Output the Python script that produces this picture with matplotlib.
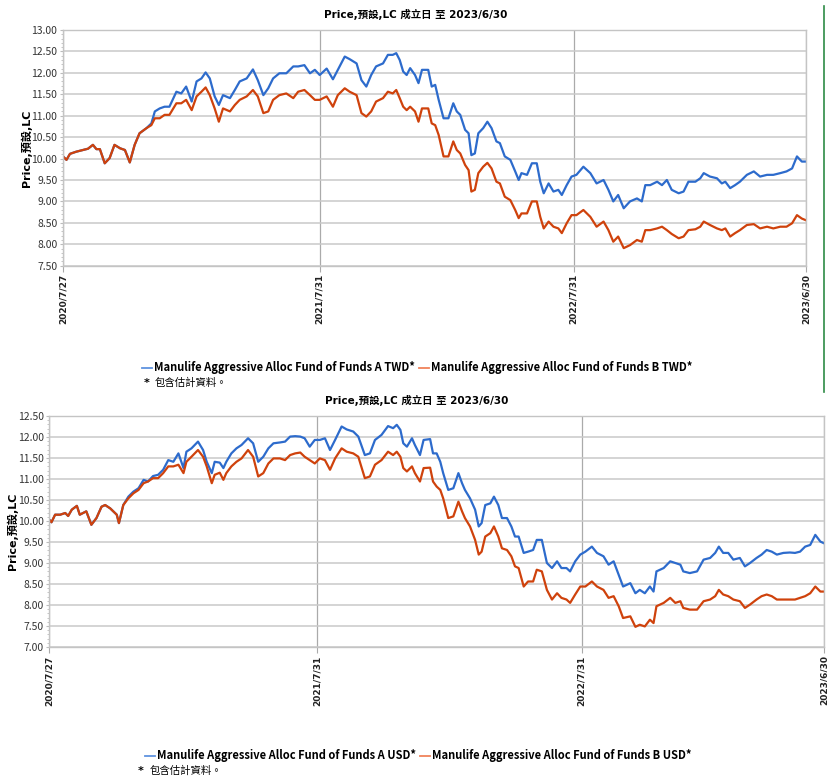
import pandas as pd
import matplotlib.pyplot as plt
from matplotlib.lines import Line2D
from matplotlib.ticker import MultipleLocator

plt.rcParams['font.family'] = ['DejaVu Sans', 'Noto Sans CJK TC']

start = pd.Timestamp('2020-07-27')
tick_dates = ['2020-07-27', '2021-07-31', '2022-07-31', '2023-06-30']
tick_labels = ['2020/7/27', '2021/7/31', '2022/7/31', '2023/6/30']
title = 'Price,預設,LC 成立日 至 2023/6/30'
y_title = 'Price,預設,LC'
footnote = '包含估計資料。'

# TWD share classes (days after launch, price)
twd_days = [0, 5, 10, 19, 29, 36, 43, 48, 53, 60,
            67, 74, 82, 89, 96, 103, 110, 120, 127, 132,
            139, 146, 153, 163, 170, 177, 185, 192, 199, 205,
            211, 218, 224, 230, 240, 247, 254, 264, 273, 280,
            288, 295, 302, 311, 321, 331, 338, 347, 355, 362,
            369, 379, 388, 395, 405, 412, 422, 429, 436, 443,
            450, 460, 467, 474, 479, 484, 489, 494, 499, 506,
            511, 516, 525, 530, 535, 540, 547, 554, 561, 566,
            571, 578, 583, 587, 592, 597, 604, 610, 616, 623,
            628, 635, 643, 650, 655, 659, 667, 674, 681, 686,
            691, 698, 705, 712, 717, 724, 731, 738, 748, 758,
            767, 777, 784, 791, 798, 806, 815, 825, 832, 837,
            844, 854, 861, 868, 875, 885, 892, 899, 909, 916,
            921, 930, 940, 947, 952, 959, 966, 973, 983, 993,
            1002, 1012, 1021, 1031, 1040, 1048, 1055, 1062, 1068]
twd_a = [10.05, 9.97, 10.11, 10.16, 10.20, 10.23, 10.32, 10.22, 10.22, 9.89,
         10.01, 10.32, 10.24, 10.20, 9.91, 10.32, 10.59, 10.71, 10.82, 11.10,
         11.17, 11.21, 11.21, 11.56, 11.52, 11.68, 11.33, 11.80, 11.87, 12.01,
         11.87, 11.45, 11.25, 11.48, 11.41, 11.60, 11.80, 11.87, 12.08, 11.83,
         11.48, 11.64, 11.87, 11.99, 11.99, 12.15, 12.15, 12.18, 11.99, 12.07,
         11.95, 12.10, 11.85, 12.07, 12.38, 12.32, 12.22, 11.83, 11.68, 11.95,
         12.15, 12.22, 12.42, 12.42, 12.46, 12.30, 12.03, 11.95, 12.11, 11.95,
         11.76, 12.07, 12.07, 11.68, 11.72, 11.37, 10.94, 10.94, 11.29, 11.10,
         11.02, 10.67, 10.59, 10.08, 10.12, 10.59, 10.71, 10.86, 10.71, 10.40,
         10.36, 10.05, 9.97, 9.70, 9.50, 9.66, 9.62, 9.89, 9.89, 9.46,
         9.19, 9.42, 9.23, 9.27, 9.15, 9.38, 9.58, 9.62, 9.81, 9.66,
         9.42, 9.50, 9.27, 9.00, 9.15, 8.84, 9.00, 9.07, 9.00, 9.38,
         9.38, 9.46, 9.38, 9.50, 9.27, 9.19, 9.23, 9.46, 9.46, 9.54,
         9.66, 9.58, 9.54, 9.42, 9.46, 9.31, 9.38, 9.46, 9.62, 9.70,
         9.58, 9.62, 9.62, 9.66, 9.70, 9.77, 10.05, 9.93, 9.93]
twd_b = [10.05, 9.97, 10.11, 10.16, 10.20, 10.23, 10.32, 10.22, 10.22, 9.89,
         10.01, 10.32, 10.24, 10.20, 9.91, 10.32, 10.59, 10.71, 10.78, 10.94,
         10.94, 11.02, 11.02, 11.29, 11.29, 11.37, 11.13, 11.45, 11.56, 11.66,
         11.48, 11.17, 10.86, 11.17, 11.10, 11.25, 11.37, 11.45, 11.60, 11.45,
         11.06, 11.10, 11.37, 11.48, 11.52, 11.41, 11.56, 11.60, 11.48, 11.37,
         11.37, 11.45, 11.21, 11.48, 11.64, 11.56, 11.48, 11.06, 10.98, 11.10,
         11.33, 11.41, 11.56, 11.52, 11.60, 11.41, 11.21, 11.13, 11.21, 11.10,
         10.86, 11.17, 11.17, 10.82, 10.78, 10.55, 10.05, 10.05, 10.40, 10.20,
         10.12, 9.85, 9.73, 9.23, 9.27, 9.66, 9.81, 9.90, 9.77, 9.46,
         9.42, 9.11, 9.03, 8.80, 8.61, 8.72, 8.72, 9.00, 9.00, 8.64,
         8.37, 8.53, 8.41, 8.37, 8.26, 8.49, 8.68, 8.68, 8.80, 8.64,
         8.41, 8.53, 8.33, 8.06, 8.18, 7.91, 7.98, 8.10, 8.06, 8.33,
         8.33, 8.37, 8.41, 8.33, 8.24, 8.14, 8.18, 8.33, 8.35, 8.41,
         8.53, 8.45, 8.37, 8.33, 8.37, 8.18, 8.26, 8.33, 8.45, 8.47,
         8.37, 8.41, 8.37, 8.41, 8.41, 8.49, 8.68, 8.60, 8.56]

# USD share classes
usd_days = [0, 3, 8, 15, 22, 26, 31, 38, 42, 51,
            58, 65, 72, 77, 84, 93, 96, 102, 109, 116,
            123, 130, 136, 143, 150, 157, 164, 171, 178, 185,
            189, 196, 205, 212, 217, 224, 228, 235, 240, 244,
            251, 258, 265, 274, 281, 288, 295, 302, 309, 318,
            325, 332, 339, 346, 352, 359, 366, 373, 380, 387,
            394, 403, 410, 419, 426, 435, 442, 449, 458, 467,
            474, 479,
            484, 488, 493, 500, 504, 511, 516, 525, 529, 534,
            539, 543, 550, 557, 564, 569, 573, 580, 587, 592,
            596, 601, 608, 613, 619, 624, 631, 637, 642, 647,
            654, 660, 667, 672, 679, 686, 693, 700, 706, 713,
            718, 725, 732, 739, 748, 755, 764, 771, 778, 785,
            791, 801, 808, 814, 821, 828, 833, 837, 847, 856,
            863, 870, 874, 883, 893, 902, 911, 918, 923, 929,
            936, 943, 952, 959, 966, 975, 982, 989, 996, 1003,
            1012, 1021, 1028, 1035, 1042, 1049, 1056, 1063, 1068]
usd_a = [10.03, 9.97, 10.15, 10.15, 10.19, 10.12, 10.27, 10.36, 10.15, 10.23,
         9.91, 10.07, 10.34, 10.38, 10.30, 10.15, 9.95, 10.38, 10.58, 10.70,
         10.78, 10.98, 10.94, 11.07, 11.10, 11.22, 11.45, 11.41, 11.61, 11.26,
         11.65, 11.73, 11.89, 11.69, 11.41, 11.14, 11.41, 11.39, 11.26, 11.41,
         11.61, 11.73, 11.81, 11.97, 11.85, 11.41, 11.53, 11.73, 11.85, 11.87,
         11.89, 12.01, 12.02, 12.01, 11.97, 11.77, 11.93, 11.93, 11.97, 11.69,
         11.93, 12.25, 12.18, 12.13, 12.01, 11.57, 11.61, 11.93, 12.05, 12.26,
         12.21, 12.29,
         12.17, 11.85, 11.77, 11.97, 11.81, 11.57, 11.93, 11.95, 11.61, 11.61,
         11.41, 11.14, 10.74, 10.78, 11.14, 10.90, 10.74, 10.54, 10.27, 9.87,
         9.95, 10.38, 10.42, 10.58, 10.38, 10.07, 10.07, 9.87, 9.63, 9.63,
         9.24, 9.27, 9.31, 9.55, 9.55, 9.00, 8.88, 9.04, 8.88, 8.88,
         8.80, 9.04, 9.20, 9.27, 9.39, 9.24, 9.16, 8.96, 9.04, 8.72,
         8.44, 8.52, 8.28, 8.36, 8.28, 8.44, 8.32, 8.80, 8.88, 9.04,
         9.00, 8.96, 8.80, 8.76, 8.80, 9.08, 9.12, 9.24, 9.39, 9.24,
         9.24, 9.08, 9.12, 8.92, 9.00, 9.12, 9.20, 9.31, 9.27, 9.20,
         9.24, 9.25, 9.24, 9.27, 9.39, 9.43, 9.67, 9.51, 9.47]
usd_b = [10.03, 9.97, 10.15, 10.15, 10.19, 10.12, 10.27, 10.36, 10.15, 10.23,
         9.91, 10.07, 10.34, 10.38, 10.30, 10.15, 9.95, 10.38, 10.54, 10.66,
         10.74, 10.90, 10.94, 11.02, 11.02, 11.14, 11.30, 11.30, 11.34, 11.14,
         11.41, 11.53, 11.69, 11.53, 11.30, 10.90, 11.10, 11.15, 10.98, 11.14,
         11.30, 11.41, 11.49, 11.69, 11.53, 11.06, 11.14, 11.37, 11.49, 11.49,
         11.45, 11.57, 11.61, 11.63, 11.53, 11.45, 11.37, 11.49, 11.45, 11.22,
         11.49, 11.73, 11.65, 11.61, 11.53, 11.02, 11.06, 11.34, 11.45, 11.65,
         11.57, 11.65,
         11.53, 11.26, 11.18, 11.30, 11.14, 10.94, 11.26, 11.27, 10.94, 10.82,
         10.74, 10.54, 10.07, 10.11, 10.46, 10.23, 10.07, 9.87, 9.55, 9.20,
         9.27, 9.63, 9.71, 9.87, 9.63, 9.35, 9.31, 9.16, 8.92, 8.88,
         8.44, 8.56, 8.56, 8.84, 8.80, 8.36, 8.13, 8.28, 8.17, 8.13,
         8.05, 8.25, 8.44, 8.44, 8.56, 8.44, 8.36, 8.17, 8.21, 7.97,
         7.69, 7.73, 7.48, 7.53, 7.49, 7.65, 7.57, 7.97, 8.05, 8.17,
         8.05, 8.09, 7.93, 7.89, 7.89, 8.09, 8.13, 8.21, 8.36, 8.25,
         8.21, 8.13, 8.09, 7.93, 8.01, 8.13, 8.21, 8.25, 8.21, 8.13,
         8.13, 8.13, 8.13, 8.17, 8.21, 8.28, 8.44, 8.32, 8.32]

blue = '#2d6bcc'
orange = '#cf420c'
narrow = ['Liberation Sans Narrow', 'Noto Sans CJK TC', 'DejaVu Sans']


def draw_panel(ax, days, a, b, ylim):
    x_a = start + pd.to_timedelta(days, unit='D')
    ax.plot(x_a, a, color=blue, linewidth=1.6, solid_joinstyle='round')
    ax.plot(x_a, b, color=orange, linewidth=1.6, solid_joinstyle='round')
    ax.set_xlim(pd.Timestamp(tick_dates[0]), pd.Timestamp(tick_dates[-1]))
    ax.set_ylim(*ylim)
    ax.yaxis.set_major_locator(MultipleLocator(0.5))
    ax.yaxis.set_minor_locator(MultipleLocator(0.1))
    ax.set_yticklabels(['%.2f' % v for v in ax.get_yticks()],
                       family=narrow, fontsize=7.5, color='#333333')
    ax.set_xticks(pd.to_datetime(tick_dates))
    ax.set_xticklabels(tick_labels, rotation=90, fontsize=6.5,
                       fontweight='bold', color='#222222', va='top')
    ax.yaxis.grid(True, color='#c9c9c9', linewidth=1.1)
    ax.xaxis.grid(True, color='#aaaaaa', linewidth=0.9)
    ax.set_axisbelow(True)
    ax.tick_params(axis='y', which='major', length=2, color='#bbbbbb', pad=2)
    ax.tick_params(axis='y', which='minor', length=1.5, color='#bbbbbb')
    ax.tick_params(axis='x', length=4, color='#aaaaaa', pad=2)
    for s in ax.spines.values():
        s.set_color('#c4c4c4')
        s.set_linewidth(1.0)
    ax.set_ylabel(y_title, fontsize=8, fontweight='bold')


def draw_legend(fig, y, labels, x0):
    handles = [Line2D([0], [0], color='#5f93df', linewidth=1.3, label=labels[0]),
               Line2D([0], [0], color='#f0825a', linewidth=1.3, label=labels[1])]
    fig.legend(handles=handles, loc='center', bbox_to_anchor=(x0, y), ncol=2,
               frameon=False, handlelength=0.9, handletextpad=0.15,
               columnspacing=0.4, prop={'family': narrow, 'weight': 'bold', 'size': 8})


fig = plt.figure(figsize=(8.28, 7.76), dpi=100)
W, H = 828, 776

ax1 = fig.add_axes([63 / W, 1 - 265.7 / H, 743 / W, 235.7 / H])
draw_panel(ax1, twd_days, twd_a, twd_b, (7.5, 13.0))
ax1.yaxis.set_label_coords(-0.042, 0.5)
fig.text(416 / W, 1 - 14 / H, title, ha='center', va='center',
         fontsize=7.5, fontweight='bold')
draw_legend(fig, 1 - 368 / H,
            ['Manulife Aggressive Alloc Fund of Funds A TWD*',
             'Manulife Aggressive Alloc Fund of Funds B TWD*'], 417 / W)
fig.text(144 / W, 1 - 383 / H, '*', ha='left', va='center', fontsize=8,
         fontweight='bold')
fig.text(155 / W, 1 - 383 / H, footnote, ha='left', va='center', fontsize=7.5,
         family=['Noto Sans CJK TC'])

ax2 = fig.add_axes([49.3 / W, 1 - 647 / H, 774.7 / W, 231 / H])
draw_panel(ax2, usd_days, usd_a, usd_b, (7.0, 12.5))
ax2.yaxis.set_label_coords(-0.041, 0.5)
fig.text(417 / W, 1 - 400 / H, title, ha='center', va='center',
         fontsize=7.5, fontweight='bold')
draw_legend(fig, 1 - 756 / H,
            ['Manulife Aggressive Alloc Fund of Funds A USD*',
             'Manulife Aggressive Alloc Fund of Funds B USD*'], 418 / W)
fig.text(138 / W, 1 - 771 / H, '*', ha='left', va='center', fontsize=8,
         fontweight='bold')
fig.text(150 / W, 1 - 771 / H, footnote, ha='left', va='center', fontsize=7.5,
         family=['Noto Sans CJK TC'])

# thin green frame edge at the right of the upper panel
fig.add_artist(Line2D([824 / W, 824 / W], [1 - 6 / H, 1 - 392 / H],
                      color='#2e8b45', linewidth=1.2))

fig.savefig('out.png', dpi=100)
